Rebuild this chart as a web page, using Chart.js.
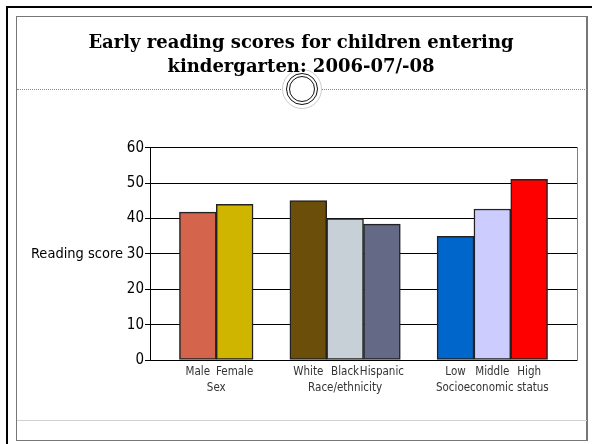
<!DOCTYPE html>
<html>
<head>
<meta charset="utf-8">
<script src="https://cdn.jsdelivr.net/npm/chart.js@4"></script>
<style>
  html, body { margin: 0; padding: 0; background: #fff; overflow: hidden; }
  #page { position: relative; width: 592px; height: 444px; overflow: hidden; }
  .deco { position: absolute; box-sizing: border-box; }
  #barTop { left: 6px; top: 6px; width: 586px; height: 2px; background: #000; }
  #barLeft { left: 6px; top: 6px; width: 2px; height: 438px; background: #000; }
  #inner { left: 16px; top: 16px; width: 572px; height: 425px; border: 1px solid #777; border-right-width: 2px; }
  #rule { left: 17px; top: 89px; width: 570px; height: 0; border-top: 1px dotted #888; }
  #foot { left: 17px; top: 420px; width: 570px; height: 0; border-top: 1px solid #d0d0d0; }
  #ring { left: 282px; top: 69px; width: 40px; height: 40px; border-radius: 50%; border: 1px solid #ccc; background: #fff; }
  #ring2 { left: 286px; top: 73px; width: 32px; height: 32px; border-radius: 50%; border: 1.5px solid #111; }
  #ring3 { left: 289px; top: 76px; width: 26px; height: 26px; border-radius: 50%; border: 1.5px solid #111; }
  #wrap { position: absolute; left: 0; top: 0; width: 592px; height: 444px; }
</style>
</head>
<body>
<div id="page">
  <div class="deco" id="barTop"></div>
  <div class="deco" id="barLeft"></div>
  <div class="deco" id="inner"></div>
  <div class="deco" id="rule"></div>
  <div class="deco" id="foot"></div>
  <div class="deco" id="ring"></div>
  <div class="deco" id="ring2"></div>
  <div class="deco" id="ring3"></div>
  <div id="wrap"><canvas id="chart"></canvas></div>
</div>
<script>
const categories = ['Male', 'Female', 'White', 'Black', 'Hispanic', 'Low', 'Middle', 'High'];
const groupLabels = ['Sex', 'Race/ethnicity', 'Socioeconomic status'];
const groupSizes = [2, 3, 3];
const scores = [41.8, 44.0, 45.1, 40.0, 38.4, 35.0, 42.7, 51.1];
const yMax = 60;
const yStep = 10;

const barColors = ['#d4654c', '#cfb500', '#6b4e0a', '#c6d0d6', '#646a85', '#0066cc', '#ccccff', '#ff0000'];
const narrow = '"DejaVu Sans Condensed", "Liberation Sans", sans-serif';

// one empty slot between groups
const slots = [];
const groupCenters = [];
let s = 0;
groupSizes.forEach(n => {
    const start = s;
    for (let i = 0; i < n; i++) slots.push(s++);
    groupCenters.push((start + s - 1) / 2);
    s++;
});
const xMin = -1.3;
const xMax = slots[slots.length - 1] + 1.3;

// horizontal y title + group names under the category labels
const extraLabels = {
    id: 'extraLabels',
    afterDraw(chart) {
        const { ctx, chartArea } = chart;
        const xs = chart.scales.x;
        ctx.save();
        ctx.font = '14.5px ' + narrow;
        ctx.fillStyle = '#000';
        ctx.textAlign = 'right';
        ctx.textBaseline = 'middle';
        ctx.fillText('Reading score', chartArea.left - 27, (chartArea.top + chartArea.bottom) / 2);
        ctx.font = '11.5px ' + narrow;
        ctx.fillStyle = '#333';
        ctx.textAlign = 'center';
        groupLabels.forEach((g, i) => {
            ctx.fillText(g, xs.getPixelForValue(groupCenters[i]), xs.bottom + 10);
        });
        ctx.restore();
    }
};

new Chart(document.getElementById('chart'), {
    type: 'bar',
    data: {
        datasets: [{
            data: scores.map((v, i) => ({ x: slots[i], y: v })),
            backgroundColor: barColors,
            borderColor: '#222',
            borderWidth: 1.5,
            borderSkipped: false,
            barPercentage: 1,
            categoryPercentage: 1
        }]
    },
    options: {
        responsive: true,
        maintainAspectRatio: false,
        animation: false,
        layout: { padding: { left: 10, right: 0, top: 0, bottom: 66 } },
        plugins: {
            legend: { display: false },
            tooltip: { enabled: false },
            title: {
                display: true,
                text: ['Early reading scores for children entering', 'kindergarten: 2006-07/-08'],
                color: '#000',
                font: { family: '"DejaVu Serif", serif', size: 18, weight: 'bold', lineHeight: 1.3 },
                padding: { top: 32, bottom: 69 }
            }
        },
        scales: {
            x: {
                type: 'linear',
                min: xMin,
                max: xMax,
                offset: false,
                afterFit: scale => { scale.height = 18; },
                grid: { display: false, drawTicks: false },
                border: { color: '#000', width: 1 },
                afterBuildTicks: scale => { scale.ticks = slots.map(v => ({ value: v })); },
                ticks: {
                    autoSkip: false,
                    maxRotation: 0,
                    padding: 5,
                    color: '#333',
                    font: { family: narrow, size: 11.5 },
                    callback: (v) => categories[slots.indexOf(v)]
                }
            },
            y: {
                min: 0,
                max: yMax,
                afterFit: scale => { scale.width = 140; },
                ticks: {
                    stepSize: yStep,
                    padding: 1,
                    color: '#000',
                    font: { family: narrow, size: 15 }
                },
                grid: { color: '#000', lineWidth: 1, tickLength: 5 },
                border: { color: '#000', width: 1 }
            },
            yRight: {
                position: 'right',
                min: 0,
                max: yMax,
                afterFit: scale => { scale.width = 15; },
                grid: { display: false, drawTicks: false },
                ticks: { display: false },
                border: { color: '#808080', width: 1 }
            }
        }
    },
    plugins: [extraLabels]
});
</script>
</body>
</html>
